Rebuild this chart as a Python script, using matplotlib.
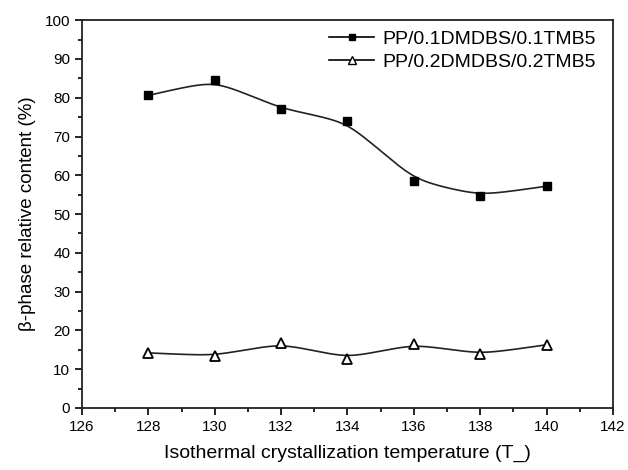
import numpy as np
import matplotlib
matplotlib.use('Agg')
import matplotlib.pyplot as plt
from matplotlib.ticker import MultipleLocator

temps = [128, 130, 132, 134, 136, 138, 140]
beta_01 = [80.6, 84.6, 77.1, 74.0, 58.6, 54.7, 57.2]
beta_02 = [14.2, 13.4, 16.8, 12.7, 16.6, 13.8, 16.3]
labels = ['PP/0.1DMDBS/0.1TMB5', 'PP/0.2DMDBS/0.2TMB5']


def smooth(x, y, bw=1.0, n=200):
    # local linear gaussian smoothing for the guide-to-eye curve
    x = np.asarray(x, float)
    y = np.asarray(y, float)
    xs = np.linspace(x.min(), x.max(), n)
    ys = []
    for x0 in xs:
        w = np.exp(-0.5 * ((x - x0) / bw) ** 2)
        X = np.vstack([np.ones_like(x), x - x0]).T
        W = np.diag(w)
        b = np.linalg.solve(X.T @ W @ X, X.T @ W @ y)
        ys.append(b[0])
    return xs, np.array(ys)


plt.rcParams['font.family'] = ['Liberation Sans', 'DejaVu Sans']

fig = plt.figure(figsize=(6.28, 4.70), dpi=100)
ax = fig.add_axes([0.1306, 0.132, 0.8454, 0.825])

xs, ys = smooth(temps, beta_01)
ax.plot(xs, ys, color='#222222', lw=1.2)
xs, ys = smooth(temps, beta_02)
ax.plot(xs, ys, color='#222222', lw=1.2)

ax.plot(temps, beta_01, ls='none', marker='s', ms=6, color='black')
ax.plot(temps, beta_02, ls='none', marker='^', ms=7, mfc='white', mec='black', mew=1.3)

# legend handles: line-marker-line
h1, = ax.plot([], [], '-', color='black', marker='s', ms=5, lw=1.2)
h2, = ax.plot([], [], '-', color='black', marker='^', ms=6, mfc='white', lw=1.2)
ax.legend([h1, h2], labels, loc='upper right', frameon=False, fontsize=14,
          handlelength=2.3, handletextpad=0.4, labelspacing=0.3,
          bbox_to_anchor=(1.0, 1.02))

ax.set_xlim(126, 142)
ax.set_ylim(0, 100)
ax.xaxis.set_major_locator(MultipleLocator(2))
ax.xaxis.set_minor_locator(MultipleLocator(1))
ax.yaxis.set_major_locator(MultipleLocator(10))
ax.yaxis.set_minor_locator(MultipleLocator(5))
ax.tick_params(which='major', direction='out', length=5, width=1.2, labelsize=11)
ax.tick_params(which='minor', direction='out', length=3, width=1.2)
for s in ax.spines.values():
    s.set_linewidth(1.3)
    s.set_color('#222222')

ax.set_xlabel('Isothermal crystallization temperature (T_)', fontsize=14, labelpad=8)
ax.set_ylabel('β-phase relative content (%)', fontsize=13.5, labelpad=6)

fig.savefig('out.png', dpi=100)
